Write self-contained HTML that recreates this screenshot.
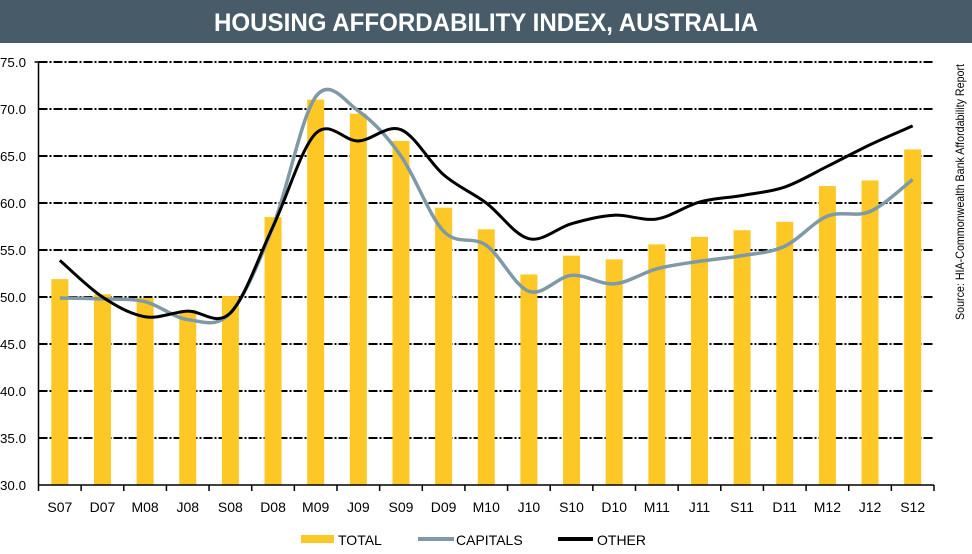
<!DOCTYPE html>
<html><head><meta charset="utf-8"><style>
body{margin:0;background:#fff;}
svg{display:block;font-family:"Liberation Sans",sans-serif;}
</style></head><body>
<svg id="chart" width="972" height="554" viewBox="0 0 972 554">
<rect x="0" y="0" width="972" height="43" fill="#485b68"/>
<text x="486" y="31" text-anchor="middle" fill="#fff" font-weight="bold" font-size="25" textLength="544" lengthAdjust="spacingAndGlyphs">HOUSING AFFORDABILITY INDEX, AUSTRALIA</text>
<g id="grid"></g><g id="bars"></g><g id="lines"></g><g id="axes"></g>
<text transform="translate(964,192) rotate(-90)" text-anchor="middle" font-size="12" fill="#000" textLength="256" lengthAdjust="spacingAndGlyphs">Source: HIA-Commonwealth  Bank Affordability Report</text>
<g>
<rect x="301" y="535" width="33" height="8" fill="#fdc825"/>
<text x="338" y="545" font-size="14">TOTAL</text>
<line x1="418" y1="539" x2="454" y2="539" stroke="#7f99a6" stroke-width="4"/>
<text x="456" y="545" font-size="14">CAPITALS</text>
<line x1="558" y1="539" x2="593" y2="539" stroke="#000" stroke-width="4"/>
<text x="597" y="545" font-size="14">OTHER</text>
</g>
</svg>
<script>
const categories=["S07","D07","M08","J08","S08","D08","M09","J09","S09","D09","M10","J10","S10","D10","M11","J11","S11","D11","M12","J12","S12"];
const totalValues=[51.9,50.3,49.9,48.6,50.1,58.5,71.0,69.5,66.6,59.5,57.2,52.4,54.4,54.0,55.6,56.4,57.1,58.0,61.8,62.4,65.7];
const capitalsValues=[49.9,49.8,49.5,47.6,48.3,57.5,71.3,69.8,65.0,57.0,55.5,50.6,52.3,51.4,53.0,53.8,54.4,55.4,58.6,59.1,62.5];
const otherValues=[53.9,50.0,47.9,48.5,48.3,57.5,67.4,66.6,67.8,63.0,60.0,56.2,57.8,58.7,58.3,60.1,60.8,61.7,63.9,66.2,68.2];
const yTicks=[30,35,40,45,50,55,60,65,70,75];
const NS="http://www.w3.org/2000/svg";
const X0=38.5,X1=934,Y0=485,Y1=62,YMIN=30,YMAX=75;
const step=(X1-X0)/categories.length;
function xPos(i){return X0+step*(i+0.5);}
function yPos(v){return Y0-(v-YMIN)/(YMAX-YMIN)*(Y0-Y1);}
function mk(tag,attrs,parent){const e=document.createElementNS(NS,tag);for(const k in attrs)e.setAttribute(k,attrs[k]);parent.appendChild(e);return e;}
const grid=document.getElementById('grid'),bars=document.getElementById('bars'),lines=document.getElementById('lines'),axes=document.getElementById('axes');
yTicks.forEach(t=>{
  const y=yPos(t);
  if(t>YMIN){const l=mk('line',{x1:X0,x2:X1,y1:y,y2:y,stroke:'#000','stroke-width':2,'stroke-dasharray':'9,2,2,2'},grid);
  
  }
  const tx=mk('text',{x:0,y:y+5,'font-size':13,fill:'#000',textLength:'26',lengthAdjust:'spacingAndGlyphs'},axes);
  tx.textContent=t.toFixed(1);
  
  
});
totalValues.forEach((v,i)=>{
  const r=mk('rect',{x:xPos(i)-8.5,y:yPos(v),width:17,height:Y0-yPos(v),fill:'#fdc825'},bars);
  
  
});
function smooth(vals){
  const p=vals.map((v,i)=>[xPos(i),yPos(v)]);
  let d='M'+p[0][0]+','+p[0][1];
  for(let i=0;i<p.length-1;i++){
    const a=p[i-1]||p[i],b=p[i],c=p[i+1],e=p[i+2]||c;
    const c1=[b[0]+(c[0]-a[0])/6,b[1]+(c[1]-a[1])/6],c2=[c[0]-(e[0]-b[0])/6,c[1]-(e[1]-b[1])/6];
    d+=' C'+c1[0]+','+c1[1]+' '+c2[0]+','+c2[1]+' '+c[0]+','+c[1];
  }
  return d;
}
const cap=mk('path',{d:smooth(capitalsValues),fill:'none',stroke:'#7f99a6','stroke-width':3.5},lines);


const oth=mk('path',{d:smooth(otherValues),fill:'none',stroke:'#000','stroke-width':3},lines);


const ya=mk('line',{x1:X0,x2:X0,y1:Y1,y2:Y0,stroke:'#000','stroke-width':1.5},axes);


mk('line',{x1:X0-4,x2:X0,y1:Y1,y2:Y1,stroke:'#000','stroke-width':1.5},axes);
const xa=mk('line',{x1:X0,x2:X1,y1:Y0,y2:Y0,stroke:'#000','stroke-width':1.5},axes);


for(let i=0;i<=categories.length;i++){mk('line',{x1:X0+step*i,x2:X0+step*i,y1:Y0,y2:Y0+6,stroke:'#000','stroke-width':1.5},axes);}
categories.forEach((c,i)=>{
  const t=mk('text',{x:xPos(i),y:512,'text-anchor':'middle','font-size':14,fill:'#000'},axes);
  t.textContent=c;
  
  
});
</script>
</body></html>
